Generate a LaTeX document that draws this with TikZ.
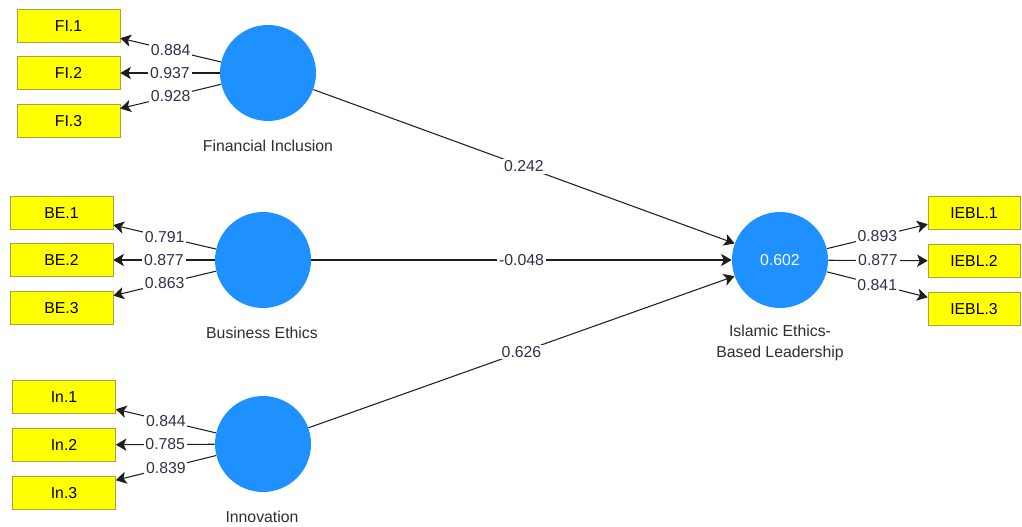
\documentclass[tikz,border=0pt]{standalone}
\usepackage{fontspec}
\setmainfont{Liberation Sans}
\usetikzlibrary{arrows.meta}

\begin{document}
\begin{tikzpicture}[x=0.02cm, y=-0.02cm, >={Stealth[length=6pt, width=7pt, inset=1.5pt]}, font=\fontsize{9}{12}\selectfont]
    % Colours of the model
    \definecolor{latentBlue}{RGB}{30, 144, 255} % latent variables
    \definecolor{itemYellow}{RGB}{255, 255, 0} % indicators
    \definecolor{itemBorder}{RGB}{165, 165, 60}
    \definecolor{lineGray}{RGB}{30, 30, 30}
    \definecolor{valueText}{RGB}{55, 45, 75}
    \definecolor{nameText}{RGB}{45, 45, 55}

    \tikzset{
        latent/.style={circle, fill=latentBlue, minimum size=1.92cm, inner sep=0pt, text=white},
        item/.style={rectangle, fill=itemYellow, draw=itemBorder, minimum width=2.06cm, minimum height=0.66cm, inner sep=0pt},
        coef/.style={fill=white, inner sep=1pt, text=valueText},
        varname/.style={text=nameText, align=center},
        link/.style={->, lineGray, line width=0.6pt}
    }

    \useasboundingbox (0,0) rectangle (1022,527);

    % 1. Latent variables
    \node[latent] (fi) at (268, 73) {};
    \node[latent] (be) at (263, 260) {};
    \node[latent] (in) at (263, 444) {};
    \node[latent] (iebl) at (780, 260) {0.602};

    \node[varname] (fiName) at (268, 146) {Financial Inclusion};
    \node[varname] (beName) at (262, 333) {Business Ethics};
    \node[varname] (inName) at (262, 517) {Innovation};
    \node[varname] (ieblName) at (780, 343) {Islamic Ethics-\\Based Leadership};

    % Macro for one indicator and its loading
    % \drawload{name}{x_pos}{y_pos}{label}{latent}{loading}
    \newcommand{\drawload}[6]{
        \node[item] (#1) at (#2, #3) {#4};
        \draw[link] (#5) -- node[coef] {#6} (#1);
    }

    % 2. Indicators of Financial Inclusion
    \drawload{fiA}{68.5}{26}{FI.1}{fi}{0.884}
    \drawload{fiB}{68.5}{73}{FI.2}{fi}{0.937}
    \drawload{fiC}{68.5}{121}{FI.3}{fi}{0.928}

    % Indicators of Business Ethics
    \drawload{beA}{61.5}{213}{BE.1}{be}{0.791}
    \drawload{beB}{61.5}{260}{BE.2}{be}{0.877}
    \drawload{beC}{61.5}{308}{BE.3}{be}{0.863}

    % Indicators of Innovation
    \drawload{inA}{64}{397}{In.1}{in}{0.844}
    \drawload{inB}{64}{445}{In.2}{in}{0.785}
    \drawload{inC}{64}{493}{In.3}{in}{0.839}

    % Indicators of Islamic Ethics-Based Leadership
    \begin{scope}[item/.append style={minimum width=1.84cm}]
        \drawload{ieblA}{974}{213}{IEBL.1}{iebl}{0.893}
        \drawload{ieblB}{974}{261}{IEBL.2}{iebl}{0.877}
        \drawload{ieblC}{974}{309}{IEBL.3}{iebl}{0.841}
    \end{scope}

    % 3. Path coefficients
    \draw[link] (fi) -- node[coef] {0.242} (iebl);
    \draw[link] (be) -- node[coef] {-0.048} (iebl);
    \draw[link] (in) -- node[coef] {0.626} (iebl);

\end{tikzpicture}
\end{document}
